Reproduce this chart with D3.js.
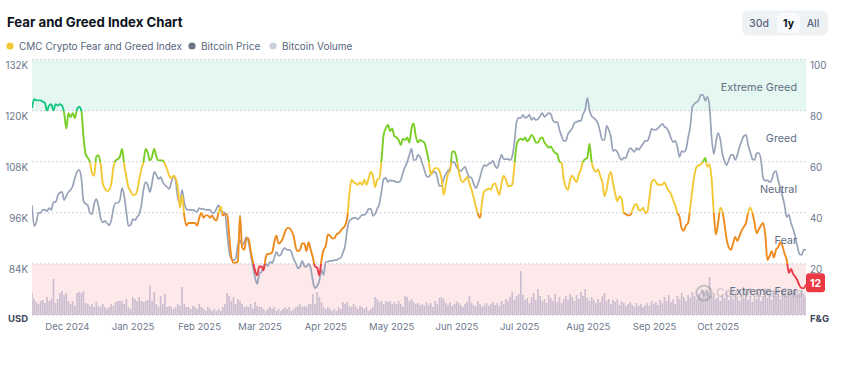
<!DOCTYPE html>
<html><head><meta charset="utf-8">
<script src="https://cdn.jsdelivr.net/npm/d3@7"></script>
<style>
html,body{margin:0;padding:0;background:#fff;}
svg{display:block;}
</style></head><body>
<svg id="chart" width="841" height="372"></svg>
<script>
// ---------------- DATA ----------------
const startDate = "2024-11-25";           // first daily point
const fearGreed = [
 81,84.5,84,84,84,83.5,83,80,82,82.5,
 80,82.5,82,82.5,82,79,73,79,77.5,79,
 77,80.5,81.5,80,70,63,61.5,60,55.5,54.5,
 62,62.5,59,
 51.5,49.5,48.5,49,51.5,58,
 60.5,61,62,65,59,54,50,48.5,47,47,
 48.5,53,57,60,65,63.5,60.5,62,65,62,
 60.5,60.5,60.5,59,57,54.5,53.5,54.5,53.5,50,
 42,47,39,35,36,36,36,36,35,38,
 40,38,39,39,38,39,37.5,37,40,42.5,
 39,39.5,39.5,31,22.5,20.5,20.5,21,
 39,26.5,25.5,30,30,25,21,17.5,15.5,19,19,
 17.5,22.5,24,24,24.5,28.5,31,28,28.5,30,
 32.5,34,34,33,31,26.5,25,25.5,28,28,
 25,28.5,25.5,22.5,19,18.5,15.5,21.5,25.5,27,
 31.5,31,30,30,31.5,32,33,34,35,38,
 47,53,52,51.5,51,52,51,53,51,53.5,
 56,54.5,50,
 53,53.5,60.5,70.5,73,74.5,
 72,73,70,69.5,68.5,66.5,69,68.5,69.5,67.5,
 73,75,70,67.5,68.5,68,67.5,64.5,60.5,55,
 56.5,57.5,57.5,56.5,53.5,47,51,55,56.5,64,
 64,61.5,56.5,53,52,53,54,51.5,49,46,
 42.5,39.5,38,45,48.5,49,49.5,49,51,51.5,
 49,47,51.5,54.5,53,50.5,50.5,51,
 58.5,66.5,68.5,69,68.5,69.5,68,69,70.5,69.5,67.5,
 67.5,69,69.5,67.5,66.5,65.5,66,64.5,63.5,63,
 60,59.5,53,50,49,53,54.5,53,52,55,
 57,60,61,61.5,67,60,57,56,57,54.5,
 52,46.5,49,54,56,51.5,47.5,44.5,46.5,45.5,
 40,39.5,39,39,41,43,43.5,41,41,42,
 40,40.5,46,
 52,53,52,51,51,51,
 52,50,48.5,47.5,45,43,40,38.5,34,33,
 35,36,42,49,55,58,58.5,59,60,61.5,
 58,59,53,40,31.5,36,42,40.5,35.5,29.5,
 26.5,25.5,28,30.5,29,31,33,34.5,36,40,
 42,40,36,32,33.5,35,36,31.5,21.5,23,
 25,22.5,25.5,26.5,28.5,27,24,21.5,
 16.5,18,16,15,13.5,11.5,10.5,10.5,12
];
const priceK = [
 97.8,92.9,93.8,96.0,96.0,96.7,96.7,96.4,97.1,96.7,
 98.5,98.5,100.0,100.7,100.9,99.0,100.0,100.9,101.4,102.3,
 104.2,105.6,106.1,104.2,98.8,98.1,97.8,96.0,95.7,98.1,
 99.2,97.6,94.8,93.8,94.1,93.6,93.1,94.3,97.1,98.3,
 98.3,99.0,101.8,100.0,96.2,92.9,93.1,94.5,94.3,95.0,
 95.7,97.8,101.4,103.2,102.5,100.9,103.0,105.6,104.9,103.9,
 104.4,103.2,102.5,102.1,101.6,103.2,104.6,103.5,99.5,98.3,
 101.4,98.5,96.9,96.7,96.7,96.7,96.4,96.2,97.1,96.9,
 96.9,96.7,96.7,96.7,96.0,96.0,96.9,97.8,96.4,96.2,
 96.0,91.3,86.8,85.2,84.9,85.2,88.4,89.6,88.4,89.1,
 90.3,89.1,86.3,83.5,80.9,79.3,81.6,82.1,83.5,84.0,
 83.5,84.5,84.2,85.4,86.8,85.9,86.1,87.3,87.7,87.3,
 87.3,86.8,85.2,84.2,83.0,83.3,84.7,83.5,83.3,84.0,
 83.0,80.0,78.3,78.8,80.0,82.6,81.4,84.5,84.5,84.7,
 84.7,84.9,84.9,85.2,85.4,86.6,88.2,92.0,94.1,94.5,
 94.8,94.8,94.5,95.0,95.5,95.5,96.0,96.9,96.9,95.3,
 95.7,96.9,98.1,100.9,103.9,104.2,103.2,103.7,103.5,103.5,
 103.2,103.2,103.7,105.4,106.8,107.9,109.6,111.0,108.4,108.4,
 109.6,109.1,107.7,106.1,104.6,104.4,105.1,105.4,105.6,104.4,
 102.3,102.3,103.9,105.1,105.8,106.5,107.9,107.9,106.8,106.1,
 105.8,106.3,106.8,105.4,104.4,104.2,102.8,101.8,102.8,104.4,
 106.3,107.2,107.0,107.5,107.7,108.2,107.0,106.5,108.2,109.6,
 108.6,108.6,108.6,108.4,109.3,112.6,117.3,118.3,118.3,119.0,
 118.3,118.5,119.0,117.8,118.3,117.8,118.0,118.7,119.4,118.5,
 119.0,119.4,119.2,117.6,117.3,117.3,115.5,114.0,112.9,112.9,
 114.5,115.2,115.9,117.1,117.3,117.6,117.6,119.2,120.2,123.0,
 120.2,118.7,118.3,117.8,116.9,115.0,113.1,113.1,116.4,115.5,
 113.8,110.5,110.8,110.3,109.1,108.4,108.9,108.9,110.3,111.2,
 110.8,110.3,111.2,110.8,111.5,112.2,112.9,112.9,114.0,115.7,
 115.5,115.5,115.9,116.4,116.9,116.2,115.9,115.0,113.6,112.6,
 112.9,111.5,109.1,110.5,110.3,110.8,113.6,116.2,120.9,121.6,
 122.0,122.5,123.7,123.7,122.3,123.2,120.9,113.6,109.8,112.6,
 114.7,113.3,109.8,108.2,107.2,108.4,109.6,109.6,108.4,109.6,
 111.5,112.9,114.0,114.3,111.9,110.3,108.6,108.4,110.0,110.0,
 108.4,104.2,103.5,103.7,103.2,103.7,105.4,105.8,103.7,101.8,
 100.0,97.8,95.0,95.5,93.6,92.2,90.3,88.0,86.3,86.1,
 87.3,87.3
];
const volumeB = [
 44,32,26,22,28,30,24,36,28,32,
 72,24,32,44,48,40,44,28,22,28,
 18,44,46,44,48,24,22,18,22,16,
 26,18,16,22,16,12,16,22,18,26,
 28,28,28,22,32,16,12,36,32,28,
 36,28,26,28,30,60,28,46,22,16,
 38,22,42,16,18,16,12,16,22,18,
 56,22,16,16,12,18,16,12,22,16,
 12,8,16,12,8,12,8,12,8,16,
 22,44,38,28,36,22,32,28,22,16,
 18,16,22,12,26,18,16,16,12,8,
 12,16,12,16,8,12,8,12,16,12,
 16,8,12,16,18,22,16,18,16,22,
 22,42,22,46,36,26,16,12,16,12,
 8,12,8,16,12,26,22,26,18,16,
 22,16,12,18,16,12,16,8,12,16,
 36,32,26,28,22,28,26,28,22,26,
 22,28,22,16,38,36,28,32,26,22,
 24,20,
 22,18,26,20,24,16,28,22,34,36,
 32,24,20,26,18,22,28,24,20,16,
 22,26,38,24,20,18,28,22,16,20,
 24,18,22,26,20,24,18,28,22,32,
 28,36,46,30,38,42,88,40,30,34,
 24,36,44,30,52,38,28,32,24,40,
 34,28,42,26,36,24,32,38,30,42,
 36,28,40,32,46,38,52,34,28,36,
 30,24,32,26,38,44,28,32,22,30,
 26,32,20,28,24,18,22,26,20,16,
 24,18,22,16,20,24,18,28,22,26,
 20,30,24,36,28,40,26,32,22,38,
 32,44,36,28,40,34,46,38,32,42,
 36,50,42,48,76,38,44,32,36,28,
 40,34,46,30,38,32,42,36,28,40,
 34,44,30,38,26,36,32,42,28,38,
 46,34,40,30,48,38,42,32,50,44,
 38,48,36,46,52,40,44,50,42,36
];
const priceTicks = [84, 96, 108, 120, 132];
const fgTicks = [20, 40, 60, 80, 100];
const monthTicks = ["2024-12-01","2025-01-01","2025-02-01","2025-03-01","2025-04-01","2025-05-01",
                    "2025-06-01","2025-07-01","2025-08-01","2025-09-01","2025-10-01"];
const zoneNames = ["Extreme Fear", "Fear", "Neutral", "Greed", "Extreme Greed"];
const zoneBounds = [0, 20, 40, 60, 80, 100];
const zoneColors = ["#EA3943", "#EF8A1C", "#F2C935", "#78CE25", "#16C784"];
const legendLabels = ["CMC Crypto Fear and Greed Index", "Bitcoin Price", "Bitcoin Volume"];
const legendColors = ["#F2C935", "#6B7386", "#CBD1DD"];
const rangeButtons = ["30d", "1y", "All"];
const titleText = "Fear and Greed Index Chart";

// ---------------- LAYOUT ----------------
const FONT = "Inter, 'Noto Sans', 'DejaVu Sans', sans-serif";
const plot = {left: 32, right: 806, top: 59.5, bottom: 315};
const svg = d3.select("#chart").attr("font-family", FONT);

const parse = d3.utcParse("%Y-%m-%d");
const start = parse(startDate);
const dates = fearGreed.map((_, i) => d3.utcDay.offset(start, i));

const x = d3.scaleUtc().domain([dates[0], dates[dates.length - 1]]).range([plot.left, plot.right]);
const yFG = d3.scaleLinear().domain([0, 100]).range([plot.bottom, plot.top]);
const yPrice = d3.scaleLinear().domain([72, 132]).range([plot.bottom, plot.top]);
const yVol = d3.scaleLinear().domain([0, 200]).range([plot.bottom, plot.bottom - 100]);

const defs = svg.append("defs");
defs.append("clipPath").attr("id", "plotClip").append("rect")
  .attr("x", plot.left).attr("y", plot.top - 5)
  .attr("width", plot.right - plot.left).attr("height", plot.bottom - plot.top + 5);

// gradient for fear & greed line (hard stops per zone)
const grad = defs.append("linearGradient").attr("id", "fgGrad")
  .attr("gradientUnits", "userSpaceOnUse")
  .attr("x1", 0).attr("x2", 0).attr("y1", yFG(0)).attr("y2", yFG(100));
zoneColors.forEach((c, i) => {
  grad.append("stop").attr("offset", zoneBounds[i] / 100).attr("stop-color", c);
  grad.append("stop").attr("offset", zoneBounds[i + 1] / 100).attr("stop-color", c);
});

// title
svg.append("text").attr("x", 7).attr("y", 26.5).text(titleText)
  .attr("font-size", 13.2).attr("font-weight", 700).attr("fill", "#0D1421");

// legend
const legendX = [10, 192, 273];
legendLabels.forEach((l, i) => {
  svg.append("circle").attr("cx", legendX[i]).attr("cy", 46).attr("r", 3.6).attr("fill", legendColors[i]);
  svg.append("text").attr("x", legendX[i] + 9).attr("y", 46).attr("dy", "0.35em")
    .text(l).attr("font-size", 10).attr("fill", "#58667E");
});

// range buttons
const btn = svg.append("g");
btn.append("rect").attr("x", 742).attr("y", 10.5).attr("width", 86).attr("height", 25).attr("rx", 6).attr("fill", "#EFF2F5");
btn.append("rect").attr("x", 777).attr("y", 13).attr("width", 23).attr("height", 20).attr("rx", 5).attr("fill", "#F8FAFD");
const btnX = [759, 788.5, 813];
rangeButtons.forEach((b, i) => {
  btn.append("text").attr("x", btnX[i]).attr("y", 23).attr("dy", "0.35em").attr("text-anchor", "middle")
    .text(b).attr("font-size", 10.5).attr("font-weight", b === "1y" ? 700 : 500)
    .attr("fill", b === "1y" ? "#0D1421" : "#58667E");
});

// zone bands
svg.append("rect").attr("x", plot.left).attr("y", yFG(100)).attr("width", plot.right - plot.left)
  .attr("height", yFG(80) - yFG(100)).attr("fill", "#E4F7F0");
svg.append("rect").attr("x", plot.left).attr("y", yFG(20)).attr("width", plot.right - plot.left)
  .attr("height", yFG(0) - yFG(20)).attr("fill", "#FDE9EA");

// grid lines
svg.append("g").selectAll("line").data([0].concat(fgTicks)).join("line")
  .attr("x1", plot.left).attr("x2", plot.right)
  .attr("y1", d => yFG(d)).attr("y2", d => yFG(d))
  .attr("stroke", "#BFC6D2").attr("stroke-width", 1).attr("stroke-dasharray", "1.5 2.5");

const marks = svg.append("g").attr("clip-path", "url(#plotClip)");

// volume bars
const bw = (x(dates[1]) - x(dates[0])) * 0.78;
marks.append("g").selectAll("rect").data(volumeB).join("rect")
  .attr("x", (d, i) => x(dates[i]) - bw / 2)
  .attr("y", d => yVol(d))
  .attr("width", bw)
  .attr("height", d => yVol(0) - yVol(d))
  .attr("fill", "#A79FC0").attr("fill-opacity", 0.58);

// watermark (logo + wordmark)
const wm = svg.append("g").attr("opacity", 0.42);
wm.append("circle").attr("cx", 704).attr("cy", 293).attr("r", 7.5).attr("fill", "none")
  .attr("stroke", "#7F8795").attr("stroke-width", 2.2);
wm.append("path").attr("d", "M699.5,297 L701.8,290.5 L704,295 L706.3,290.5 L708.5,297").attr("fill", "none")
  .attr("stroke", "#7F8795").attr("stroke-width", 1.7);
wm.append("text").attr("x", 716).attr("y", 293).attr("dy", "0.35em").text("CoinMarketCap")
  .attr("font-size", 11.5).attr("font-weight", 600).attr("fill", "#9AA1AD");

// price line
marks.append("path").datum(priceK)
  .attr("d", d3.line().x((d, i) => x(dates[i])).y(d => yPrice(d)).curve(d3.curveMonotoneX))
  .attr("fill", "none").attr("stroke", "#98A3B9").attr("stroke-width", 1.7);

// fear & greed line
marks.append("path").datum(fearGreed)
  .attr("d", d3.line().x((d, i) => x(dates[i])).y(d => yFG(d)).curve(d3.curveMonotoneX))
  .attr("fill", "none").attr("stroke", "url(#fgGrad)").attr("stroke-width", 1.9)
  .attr("stroke-linejoin", "round");

// zone labels
zoneNames.forEach((z, i) => {
  svg.append("text").attr("x", 797).attr("y", yFG((zoneBounds[i] + zoneBounds[i + 1]) / 2) + 2)
    .attr("dy", "0.35em").attr("text-anchor", "end").text(z)
    .attr("font-size", 10.8).attr("fill", "#616E85");
});

// left axis (price)
const la = svg.append("g").attr("transform", `translate(28,0)`)
  .call(d3.axisLeft(yPrice).tickValues(priceTicks).tickFormat(d => d + "K").tickSize(0).tickPadding(0))
  .attr("font-family", FONT);
la.select(".domain").remove();
la.selectAll("text").attr("y", 5.5).attr("font-size", 9.8).attr("fill", "#6B778C");

// right axis (F&G)
const ra = svg.append("g").attr("transform", `translate(810,0)`)
  .call(d3.axisRight(yFG).tickValues(fgTicks).tickSize(0).tickPadding(0))
  .attr("font-family", FONT);
ra.select(".domain").remove();
ra.selectAll("text").attr("y", 5.5).attr("font-size", 9.8).attr("fill", "#6B778C");

// bottom axis (months)
const ba = svg.append("g").attr("transform", `translate(0,${plot.bottom})`)
  .call(d3.axisBottom(x).tickValues(monthTicks.map(parse)).tickFormat(d3.utcFormat("%b %Y")).tickSize(0).tickPadding(0))
  .attr("font-family", FONT);
ba.select(".domain").remove();
ba.selectAll("text").attr("y", 11.5).attr("dy", "0.35em").attr("text-anchor", "start")
  .attr("font-size", 9.5).attr("fill", "#6B778C");

// unit labels
svg.append("text").attr("x", 28).attr("y", 318.5).attr("dy", "0.35em").attr("text-anchor", "end")
  .text("USD").attr("font-size", 9.5).attr("font-weight", 700).attr("fill", "#3E475A");
svg.append("text").attr("x", 810).attr("y", 318.5).attr("dy", "0.35em")
  .text("F&G").attr("font-size", 9.5).attr("font-weight", 700).attr("fill", "#3E475A");

// current value badge
const last = fearGreed[fearGreed.length - 1];
const by = yFG(last);
svg.append("rect").attr("x", 806).attr("y", by - 11).attr("width", 19).attr("height", 19).attr("rx", 3)
  .attr("fill", "#EA3943");
svg.append("text").attr("x", 815.5).attr("y", by - 1.5).attr("dy", "0.35em").attr("text-anchor", "middle")
  .text(last).attr("font-size", 10.5).attr("font-weight", 700).attr("fill", "#fff");
</script>
</body></html>
